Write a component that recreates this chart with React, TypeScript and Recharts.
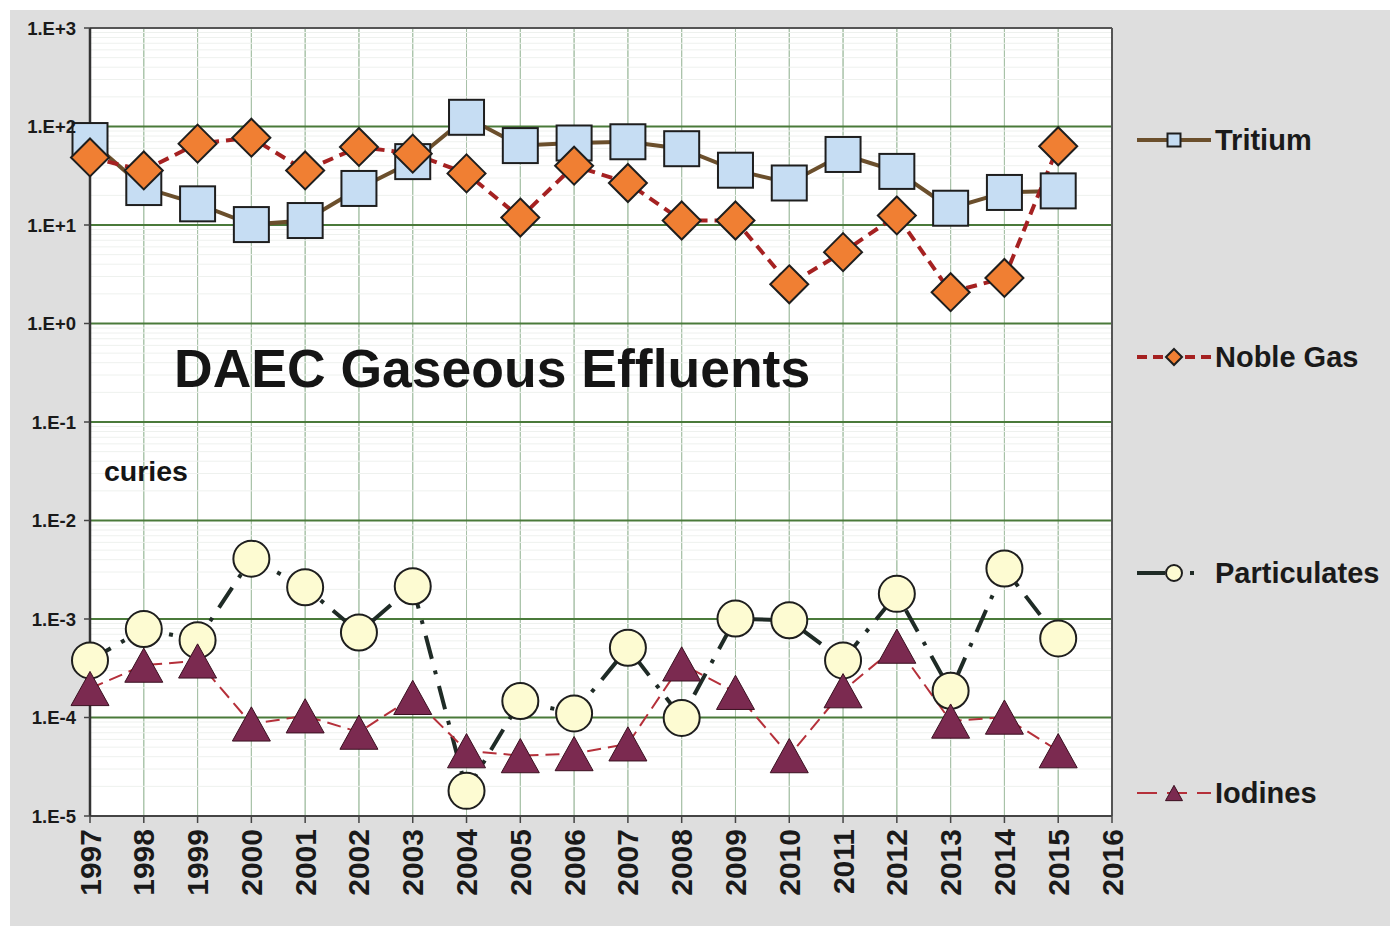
import { CartesianGrid, Line, LineChart, ReferenceLine, XAxis, YAxis } from "recharts";

const years = [1997, 1998, 1999, 2000, 2001, 2002, 2003, 2004, 2005, 2006, 2007, 2008, 2009, 2010, 2011, 2012, 2013, 2014, 2015];
const tritium = [72, 24, 16.4, 10.1, 11.1, 23.5, 44, 124, 64, 68, 70, 59.5, 36, 26.7, 52, 35, 14.8, 21.4, 22.2];
const nobleGas = [48.5, 35.8, 67, 77, 35.8, 62, 53, 33.4, 11.9, 40, 26.7, 11.1, 11.1, 2.5, 5.3, 12.5, 2.08, 2.9, 63];
const particulates = [3.8e-4, 7.9e-4, 6.1e-4, 4.1e-3, 2.1e-3, 7.3e-4, 2.15e-3, 1.8e-5, 1.47e-4, 1.1e-4, 5.1e-4, 9.9e-5, 1.01e-3, 9.7e-4, 3.8e-4, 1.8e-3, 1.87e-4, 3.26e-3, 6.35e-4];
const iodines = [1.97e-4, 3.4e-4, 3.75e-4, 8.6e-5, 1.04e-4, 7.1e-5, 1.6e-4, 4.6e-5, 4.1e-5, 4.3e-5, 5.4e-5, 3.5e-4, 1.8e-4, 4.1e-5, 1.87e-4, 5.3e-4, 9.2e-5, 1.01e-4, 4.6e-5];

const yearTicks = [1997, 1998, 1999, 2000, 2001, 2002, 2003, 2004, 2005, 2006, 2007, 2008, 2009, 2010, 2011, 2012, 2013, 2014, 2015, 2016];
const decadeTicks = [1e-5, 1e-4, 1e-3, 1e-2, 1e-1, 1, 10, 100, 1000];
const minorTicks = decadeTicks.slice(0, -1).flatMap((d) => [2, 3, 4, 5, 6, 7, 8, 9].map((m) => m * d));

const data = years.map((year, i) => ({
  year,
  tritium: tritium[i],
  nobleGas: nobleGas[i],
  particulates: particulates[i],
  iodines: iodines[i]
}));

const FONT = "'Liberation Sans', Arial, sans-serif";
const EDGE = "#1e1e1e";

const fmtExp = (v: number) => {
  const e = Math.round(Math.log10(v));
  return `1.E${e >= 0 ? "+" : "-"}${Math.abs(e)}`;
};

function Square({ cx, cy, s = 35 }: any) {
  return <rect x={cx - s / 2} y={cy - s / 2} width={s} height={s} fill="#c6ddf3" stroke={EDGE} strokeWidth={2} />;
}
function Diamond({ cx, cy, r = 19 }: any) {
  return <polygon points={`${cx},${cy - r} ${cx + r},${cy} ${cx},${cy + r} ${cx - r},${cy}`} fill="#f07f33" stroke={EDGE} strokeWidth={2} />;
}
function Circle({ cx, cy, r = 18 }: any) {
  return <circle cx={cx} cy={cy} r={r} fill="#fdfbd2" stroke={EDGE} strokeWidth={2} />;
}
function Triangle({ cx, cy, w = 38 }: any) {
  const h = w * 0.9;
  return <polygon points={`${cx},${cy - h / 2} ${cx + w / 2},${cy + h / 2} ${cx - w / 2},${cy + h / 2}`} fill="#7b2a50" stroke="#3a1020" strokeWidth={1} />;
}

const dotFn = (Shape: any) => (p: any) => <Shape key={`d${p.index}`} cx={p.cx} cy={p.cy} />;

function YearTick({ x, y, payload }: any) {
  return (
    <g transform={`translate(${x},${y})`}>
      <line x1={0} x2={0} y1={0} y2={7} stroke="#444" strokeWidth={1.5} />
      <text transform="rotate(-90)" x={-13} y={10.5} textAnchor="end" fontFamily={FONT} fontWeight="bold" fontSize={30} fill="#1a1a1a">
        {payload.value}
      </text>
    </g>
  );
}

const legendItems = [
  { name: "Tritium", y: 140, stroke: "#6b4f2c", width: 4, dash: undefined, marker: <Square cx={37} cy={0} s={13} /> },
  { name: "Noble Gas", y: 357, stroke: "#a52121", width: 4, dash: "10 6", marker: <Diamond cx={37} cy={0} r={8} /> },
  { name: "Particulates", y: 573, stroke: "#1f2b26", width: 4, dash: "28 25 4 20", marker: <Circle cx={37} cy={0} r={8} /> },
  { name: "Iodines", y: 793, stroke: "#b5303a", width: 2, dash: "20 10", marker: <Triangle cx={37} cy={0} w={17} /> }
];

export default function App() {
  return (
    <div style={{ position: "absolute", left: 0, top: 0, width: 1396, height: 930, background: "#fff" }}>
      <div style={{ position: "absolute", left: 10, top: 10, width: 1380, height: 916, background: "#dedede" }} />
      <div style={{ position: "absolute", left: 0, top: 0 }}>
        <LineChart width={1396} height={930} data={data} margin={{ top: 28, right: 284, bottom: 0, left: 0 }}>
          <CartesianGrid horizontal={false} stroke="#a8c2a8" strokeWidth={1} fill="#ffffff" />
          {minorTicks.map((v) => (
            <ReferenceLine key={v} y={v} stroke="#eef1ee" strokeWidth={1} />
          ))}
          <CartesianGrid horizontal={false} stroke="#a8c2a8" strokeWidth={1} />
          <CartesianGrid vertical={false} stroke="#4a7a3a" strokeWidth={2} />
          <XAxis
            dataKey="year"
            type="number"
            domain={[1997, 2016]}
            ticks={yearTicks}
            interval={0}
            tickLine={false}
            tickSize={0}
            tickMargin={0}
            tick={<YearTick />}
            height={114}
            axisLine={{ stroke: "#444", strokeWidth: 2 }}
          />
          <YAxis
            scale="log"
            domain={[1e-5, 1000]}
            allowDataOverflow
            ticks={decadeTicks}
            interval={0}
            tickFormatter={fmtExp}
            width={90}
            tickSize={6}
            tickMargin={8}
            tickLine={{ stroke: "#444", strokeWidth: 1.5 }}
            axisLine={{ stroke: "#333", strokeWidth: 2.5 }}
            tick={{ fontFamily: FONT, fontWeight: "bold", fontSize: 18.5, fill: "#1a1a1a" }}
          />
          <ReferenceLine y={1000} stroke="#555" strokeWidth={2} />
          <ReferenceLine x={2016} stroke="#555" strokeWidth={2} />
          <Line dataKey="tritium" name="Tritium" stroke="#6b4f2c" strokeWidth={4} dot={dotFn(Square)} isAnimationActive={false} />
          <Line dataKey="nobleGas" name="Noble Gas" stroke="#a52121" strokeWidth={4} strokeDasharray="11 7" dot={dotFn(Diamond)} isAnimationActive={false} />
          <Line dataKey="particulates" name="Particulates" stroke="#1f2b26" strokeWidth={4} strokeDasharray="24 12 4 12" dot={dotFn(Circle)} isAnimationActive={false} />
          <Line dataKey="iodines" name="Iodines" stroke="#b5303a" strokeWidth={2} strokeDasharray="14 7" dot={dotFn(Triangle)} isAnimationActive={false} />
        </LineChart>
      </div>
      <svg width={1396} height={930} style={{ position: "absolute", left: 0, top: 0, pointerEvents: "none" }}>
        <text x={174} y={387} fontFamily={FONT} fontWeight="bold" fontSize={53.5} fill="#151515">
          DAEC Gaseous Effluents
        </text>
        <text x={104} y={481} fontFamily={FONT} fontWeight="bold" fontSize={28.5} fill="#151515">
          curies
        </text>
        {legendItems.map((it) => (
          <g key={it.name} transform={`translate(1137,${it.y})`}>
            <line x1={0} x2={74} y1={0} y2={0} stroke={it.stroke} strokeWidth={it.width} strokeDasharray={it.dash} />
            {it.marker}
            <text x={78} y={10} fontFamily={FONT} fontWeight="bold" fontSize={29} fill="#1a1a1a">
              {it.name}
            </text>
          </g>
        ))}
      </svg>
    </div>
  );
}
